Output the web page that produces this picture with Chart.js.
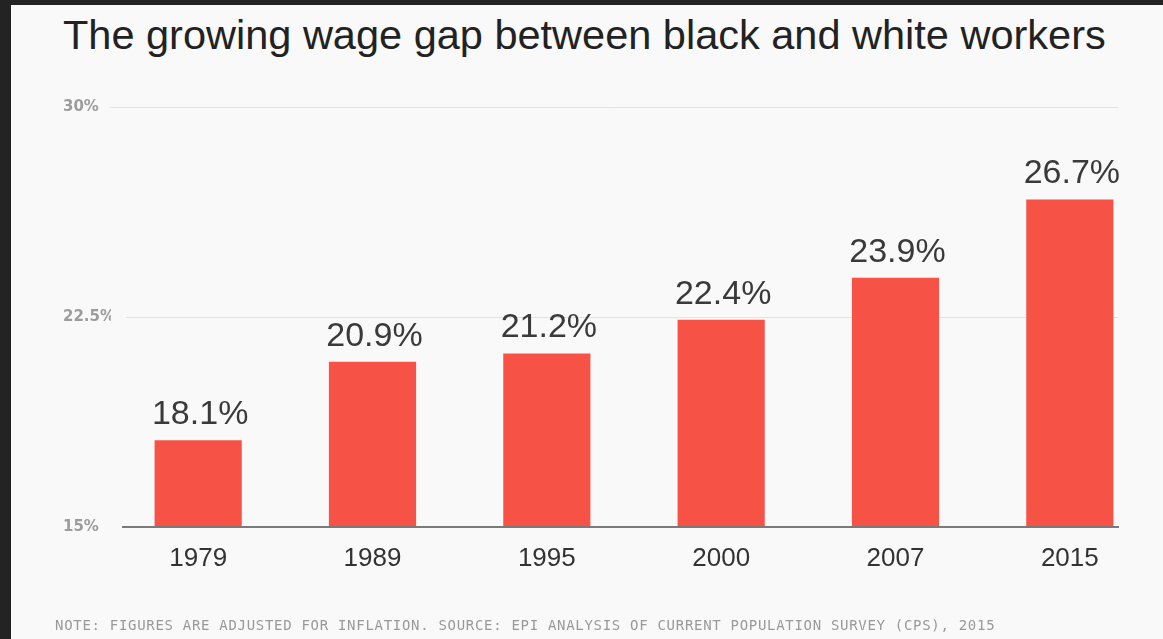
<!DOCTYPE html>
<html>
<head>
<meta charset="utf-8">
<script src="https://cdn.jsdelivr.net/npm/chart.js@4"></script>
<style>
  html, body { margin: 0; padding: 0; }
  body { width: 1163px; height: 639px; background: #232323; position: relative; overflow: hidden; }
  #panel { position: absolute; left: 11px; top: 5px; right: 0; bottom: 0; background: #f9f9f9; }
  #title { position: absolute; left: 63px; top: 15px; font: 41.5px/40px "Liberation Sans", Arial, sans-serif; color: #222; white-space: nowrap; }
  #note { position: absolute; left: 55px; top: 618px; font: 14px/14px "DejaVu Sans Mono", monospace; letter-spacing: 0.7px; color: #999; white-space: nowrap; }
  #wrap { position: absolute; left: 0; top: 0; width: 1163px; height: 639px; }
</style>
</head>
<body>
<div id="panel"></div>
<div id="title">The growing wage gap between black and white workers</div>
<div id="wrap"><canvas id="chart"></canvas></div>
<div id="note">NOTE: FIGURES ARE ADJUSTED FOR INFLATION. SOURCE: EPI ANALYSIS OF CURRENT POPULATION SURVEY (CPS), 2015</div>
<script>
const years = ["1979", "1989", "1995", "2000", "2007", "2015"];
const gap = [18.1, 20.9, 21.2, 22.4, 23.9, 26.7];
const yTicks = [15, 22.5, 30];

const tickFont = 'bold 15px "DejaVu Sans"';

// light gridlines + dark baseline, drawn at the y scale's own positions
const lines = {
  id: "lines",
  beforeDatasetsDraw(chart) {
    const ctx = chart.ctx;
    const y = chart.scales.y;
    ctx.save();
    ctx.font = tickFont;
    yTicks.forEach(t => {
      if (t === 15) return;
      const py = Math.round(y.getPixelForValue(t)) + 0.5;
      const w = ctx.measureText(t + "%").width;
      ctx.strokeStyle = "#e2e2e2";
      ctx.lineWidth = 1;
      ctx.beginPath();
      ctx.moveTo(y.left + w + 11, py);
      ctx.lineTo(1118, py);
      ctx.stroke();
    });
    ctx.restore();
  },
  afterDatasetsDraw(chart) {
    const ctx = chart.ctx;
    const y = chart.scales.y;
    const py = y.getPixelForValue(15);
    ctx.save();
    ctx.strokeStyle = "#7a7a7a";
    ctx.lineWidth = 2;
    ctx.beginPath();
    ctx.moveTo(122, py);
    ctx.lineTo(1119, py);
    ctx.stroke();

    // value labels above the bars
    ctx.fillStyle = "#3a3a3a";
    ctx.font = '34px "Liberation Sans", Arial, sans-serif';
    ctx.textAlign = "center";
    ctx.textBaseline = "alphabetic";
    chart.getDatasetMeta(0).data.forEach((bar, i) => {
      ctx.fillText(gap[i].toFixed(1) + "%", bar.x + 2, bar.y - 16);
    });
    ctx.restore();
  }
};

new Chart(document.getElementById("chart"), {
  type: "bar",
  data: {
    labels: years,
    datasets: [{
      data: gap,
      backgroundColor: "#f75246",
      barPercentage: 0.5,
      categoryPercentage: 1
    }]
  },
  options: {
    responsive: true,
    maintainAspectRatio: false,
    animation: false,
    layout: { padding: { left: 63, right: 6, top: 107, bottom: 72 } },
    plugins: { legend: { display: false }, tooltip: { enabled: false } },
    scales: {
      x: {
        grid: { display: false, drawTicks: false },
        border: { display: false },
        ticks: {
          padding: 16,
          color: "#333",
          font: { family: '"Liberation Sans", Arial, sans-serif', size: 26 }
        },
        afterFit(scale) { scale.height = 40; }
      },
      y: {
        min: 15,
        max: 30,
        grid: { display: false, drawTicks: false },
        border: { display: false },
        afterBuildTicks(scale) { scale.ticks = yTicks.map(v => ({ value: v })); },
        ticks: {
          crossAlign: "far",
          color: "#9c9c9c",
          padding: 0,
          font: { family: '"DejaVu Sans"', size: 15, weight: "bold" },
          callback: v => v + "%"
        },
        afterFit(scale) { scale.width = 48; }
      }
    }
  },
  plugins: [lines]
});
</script>
</body>
</html>
